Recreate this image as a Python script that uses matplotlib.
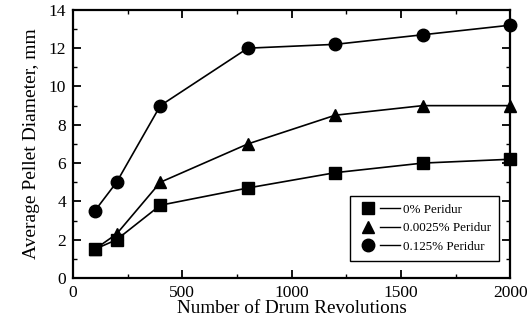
import matplotlib
matplotlib.use("Agg")
import matplotlib.pyplot as plt
from matplotlib.lines import Line2D
from matplotlib.legend_handler import HandlerTuple
from matplotlib.ticker import MultipleLocator

plt.rcParams['font.family'] = ['Liberation Serif', 'DejaVu Serif']

revolutions = [100, 200, 400, 800, 1200, 1600, 2000]
diam_0 = [1.5, 2.0, 3.8, 4.7, 5.5, 6.0, 6.2]
diam_00025 = [1.5, 2.3, 5.0, 7.0, 8.5, 9.0, 9.0]
diam_0125 = [3.5, 5.0, 9.0, 12.0, 12.2, 12.7, 13.2]
series_labels = ["0% Peridur", "0.0025% Peridur", "0.125% Peridur"]
series_markers = ["s", "^", "o"]

fig = plt.figure(figsize=(5.32, 3.29), dpi=100)
ax = fig.add_axes([0.137, 0.155, 0.822, 0.815])

handles = []
for vals, mk in zip([diam_0, diam_00025, diam_0125], series_markers):
    ax.plot(revolutions, vals, color="black", lw=1.2, marker=mk, ms=9,
            markerfacecolor="black", clip_on=False, zorder=3)
    m = Line2D([], [], color="black", marker=mk, ms=9, ls="none")
    l = Line2D([], [], color="black", lw=1.0)
    handles.append((m, l))

ax.set_xlim(0, 2000)
ax.set_ylim(0, 14)
ax.xaxis.set_major_locator(MultipleLocator(500))
ax.xaxis.set_minor_locator(MultipleLocator(250))
ax.yaxis.set_major_locator(MultipleLocator(2))
ax.yaxis.set_minor_locator(MultipleLocator(1))
ax.tick_params(which="both", direction="in", top=True, right=True, labelsize=12.5)
ax.tick_params(which="major", length=6, width=1.3, pad=5)
ax.tick_params(which="minor", length=3, width=1.0)
for sp in ax.spines.values():
    sp.set_linewidth(1.6)

ax.set_xlabel("Number of Drum Revolutions", fontsize=13.8, labelpad=-1)
ax.set_ylabel("Average Pellet Diameter, mm", fontsize=14, labelpad=6)

leg = ax.legend(handles, series_labels,
                handler_map={tuple: HandlerTuple(ndivide=None, pad=0.2)},
                loc="lower right", bbox_to_anchor=(0.99, 0.04),
                fontsize=9.4, handlelength=3.2, handletextpad=0.3,
                fancybox=False, edgecolor="black", framealpha=1,
                borderpad=0.6, labelspacing=0.5)
leg.get_frame().set_linewidth(1.0)

fig.savefig("out.png", dpi=100)
